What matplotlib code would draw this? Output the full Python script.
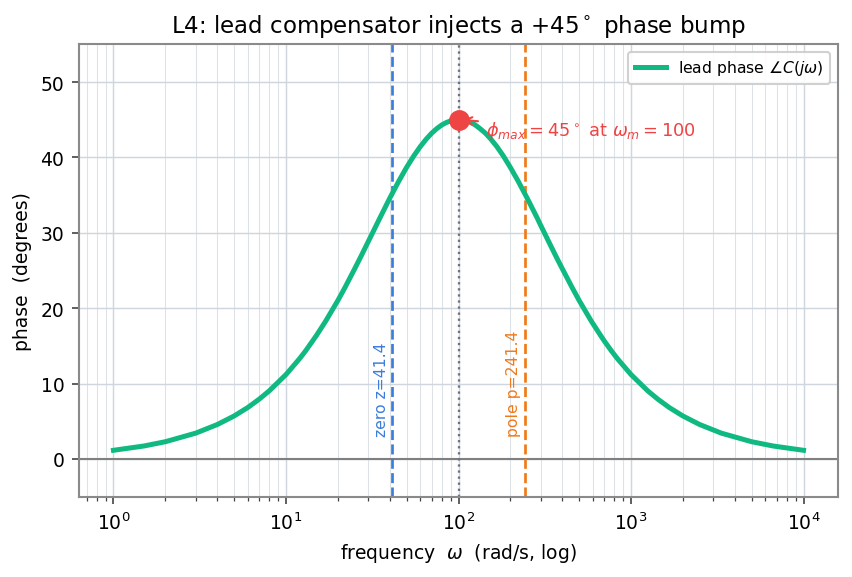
import matplotlib
matplotlib.use("Agg")
import matplotlib.pyplot as plt

# 频率点 (rad/s) 与对应的超前相位 (度)
freq = [1, 1.5, 2, 3, 4, 5, 6, 7, 8, 10, 12, 13, 15, 17, 20, 22, 25, 27, 30, 35,
        40, 45, 50, 55, 60, 65, 70, 75, 80, 85, 90, 100,
        111, 118, 125, 133, 143, 154, 167, 182, 200, 222, 250, 286, 300, 333, 370,
        400, 455, 500, 588, 667, 700, 769, 833, 1000, 1250, 1429, 1667, 2000, 2500,
        3333, 5000, 6667, 10000]
phase = [1.15, 1.72, 2.29, 3.43, 4.57, 5.70, 6.82, 7.94, 9.04, 11.20, 13.32, 14.35,
         16.37, 18.30, 21.04, 22.77, 25.22, 26.73, 28.85, 31.96,
         34.62, 36.83, 38.68, 40.19, 41.43, 42.43, 43.23, 43.84, 44.31, 44.63, 44.85, 45.00,
         44.85, 44.63, 44.31, 43.84, 43.23, 42.43, 41.43, 40.19, 38.66, 36.83, 34.60,
         31.96, 30.96, 28.85, 26.73,
         25.22, 22.77, 21.04, 18.30, 16.37, 15.65, 14.35, 13.32, 11.20, 9.04, 7.94,
         6.82, 5.70, 4.57,
         3.43, 2.29, 1.72, 1.15]

zero_z = 41.4
pole_p = 241.4
w_m = 100
phi_max = 45

plt.rcParams['font.family'] = ['DejaVu Sans']
plt.rcParams['font.size'] = 9

fig = plt.figure(figsize=(5.68, 3.853), dpi=150)
ax = fig.add_axes([0.0927, 0.139, 0.8909, 0.7826])

ax.semilogx(freq, phase, color='#10b981', lw=2.4, label=r'lead phase $\angle C(j\omega)$',
            solid_joinstyle='round', zorder=3)
ax.axhline(0, color='#808080', lw=1.0, zorder=2)
ax.axvline(zero_z, color='#3b7ddd', ls='--', lw=1.3, zorder=2)
ax.axvline(pole_p, color='#f07a1a', ls='--', lw=1.3, zorder=2)
ax.axvline(w_m, color='#6b7280', ls=':', lw=1.1, zorder=2)

# 零点 / 极点标注
ax.text(zero_z * 0.96, 3, 'zero z=41.4', rotation=90, color='#3b7ddd', fontsize=7.5,
        ha='right', va='bottom')
ax.text(pole_p * 0.96, 3, 'pole p=241.4', rotation=90, color='#f07a1a', fontsize=7.5,
        ha='right', va='bottom')

ax.plot([w_m], [phi_max], 'o', color='#ef4444', ms=9, zorder=4)
ax.annotate(r'$\phi_{max}=45^\circ$ at $\omega_m=100$', xy=(w_m, phi_max), xytext=(145, 43),
            color='#ef4444', fontsize=8.5,
            arrowprops=dict(arrowstyle='->', color='#ef4444', lw=1))

ax.set_ylim(-5, 55)
ax.set_title(r'L4: lead compensator injects a +45$^\circ$ phase bump', fontsize=11)
ax.set_xlabel(r'frequency  $\omega$  (rad/s, log)')
ax.set_ylabel('phase  (degrees)')

ax.grid(True, which='major', color='#cfd6dd', lw=0.7)
ax.grid(True, which='minor', color='#dde2e7', lw=0.5)
for s in ax.spines.values():
    s.set_color('#8a8a8a')
    s.set_linewidth(1.0)
ax.tick_params(which='both', color='#444444')
ax.legend(loc='upper right', fontsize=7.5, framealpha=0.9)

fig.savefig('out.png', dpi=150)
